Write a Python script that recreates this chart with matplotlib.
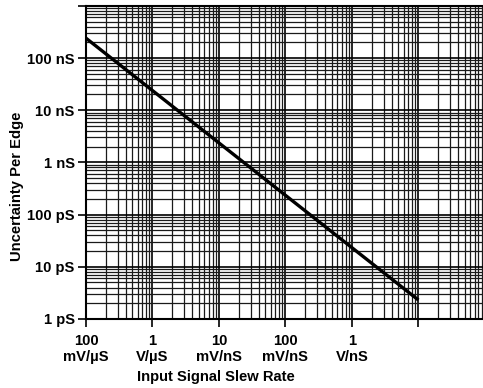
import matplotlib
matplotlib.use("Agg")
import matplotlib.pyplot as plt
from matplotlib.ticker import LogLocator, NullFormatter, FixedLocator

plt.rcParams['font.family'] = ['Liberation Sans', 'DejaVu Sans']

# Data (slew rate in V/us, uncertainty in seconds)
slew_rate = [0.1, 1e4]
uncertainty = [2.4e-7, 2.3e-12]

x_ticks = [0.1, 1, 10, 100, 1000, 1e4, 1e5]
x_tick_labels = ["100\nmV/\u00b5S", "1\nV/\u00b5S", "10\nmV/nS", "100\nmV/nS", "1\nV/nS", "", ""]
y_ticks = [1e-12, 1e-11, 1e-10, 1e-9, 1e-8, 1e-7, 1e-6]
y_tick_labels = ["1 pS", "10 pS", "100 pS", "1 nS", "10 nS", "100 nS", ""]

fig = plt.figure(figsize=(4.83, 3.88), dpi=100)
ax = fig.add_axes([0.178, 0.178, 0.826, 0.807])

ax.set_xscale('log')
ax.set_yscale('log')
ax.set_xlim(0.1, 1e5)
ax.set_ylim(1e-12, 1e-6)

ax.plot(slew_rate, uncertainty, color='black', linewidth=2.4, solid_capstyle='butt')

ax.xaxis.set_major_locator(FixedLocator(x_ticks))
ax.set_xticklabels(x_tick_labels)
ax.yaxis.set_major_locator(FixedLocator(y_ticks))
ax.set_yticklabels(y_tick_labels)
ax.xaxis.set_minor_locator(LogLocator(base=10, subs=range(2, 10), numticks=50))
ax.yaxis.set_minor_locator(LogLocator(base=10, subs=range(2, 10), numticks=50))
ax.xaxis.set_minor_formatter(NullFormatter())
ax.yaxis.set_minor_formatter(NullFormatter())

ax.grid(which='major', color='black', linewidth=1.2)
ax.grid(which='minor', color='#1a1a1a', linewidth=0.9)
ax.set_axisbelow(True)

ax.tick_params(which='major', direction='out', length=6, width=1.2, color='black',
               labelsize=10.6, pad=2)
ax.tick_params(which='minor', length=0)
for lab in ax.get_xticklabels() + ax.get_yticklabels():
    lab.set_fontweight('bold')
ax.tick_params(axis='x', pad=5)

for s in ['left', 'bottom', 'top']:
    ax.spines[s].set_linewidth(1.5)
ax.spines['right'].set_visible(False)

fig.text(216 / 483, 1 - 377 / 388, "Input Signal Slew Rate", fontsize=10.6,
         fontweight='bold', ha='center', va='center')
fig.text(17 / 483, 1 - 186 / 388, "Uncertainty Per Edge", fontsize=10.6,
         fontweight='bold', ha='center', va='center', rotation=90)

fig.savefig("out.png", dpi=100)
